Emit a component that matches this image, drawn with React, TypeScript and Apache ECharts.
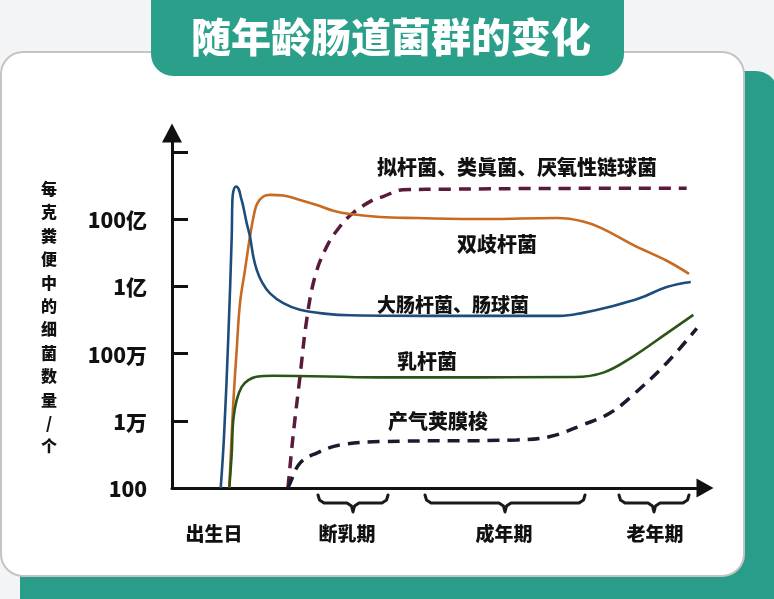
import React, { useEffect, useRef } from "react";
import * as echarts from "echarts";

// ---- Data (x: position on the age timeline 0..98.7, y: log10 of bacteria count per gram) ----
const yTickExponents = [2, 4, 6, 8, 10];
const yTickLabels = ["100", "1万", "100万", "1亿", "100亿"];
const yTickMarks = [4, 6, 8, 10, 12];

const periodLabels = ["出生日", "断乳期", "成年期", "老年期"];

const seriesNames = [
  "拟杆菌、类眞菌、厌氧性链球菌",
  "双歧杆菌",
  "大肠杆菌、肠球菌",
  "乳杆菌",
  "产气荚膜梭",
];

const bacteroidesData = [
  [21.48, 2.0], [22.41, 3.53], [23.7, 5.31], [24.94, 7.0], [26.48, 8.29],
  [28.65, 9.18], [31.11, 9.78], [33.52, 10.18], [37.22, 10.57], [39.07, 10.67],
  [42.78, 10.87], [51.48, 10.89], [70.0, 10.91], [95.31, 10.92],
];

const bifidoData = [
  [10.61, 2.0], [10.93, 3.13], [11.35, 4.53], [11.98, 6.11], [12.59, 7.5],
  [13.52, 8.49], [14.44, 9.48], [15.24, 10.18], [15.8, 10.47], [16.91, 10.67],
  [18.15, 10.72], [20.61, 10.7], [23.7, 10.57], [26.8, 10.42], [29.87, 10.25],
  [32.96, 10.15], [38.52, 10.06], [45.31, 10.03], [57.59, 10.0], [71.24, 10.03],
  [76.11, 9.93], [79.81, 9.71], [85.37, 9.23], [91.61, 8.76], [95.74, 8.37],
];

const coliData = [
  [9.02, 2.0], [9.63, 3.53], [10.43, 6.5], [11.06, 9.48], [11.17, 10.48],
  [11.35, 10.82], [11.85, 10.97], [12.35, 10.89], [12.72, 10.67], [13.2, 10.37],
  [13.83, 9.88], [14.44, 9.48], [15.06, 8.88], [15.69, 8.49], [16.61, 8.14],
  [18.15, 7.79], [20.61, 7.5], [23.7, 7.3], [28.65, 7.18], [32.96, 7.14],
  [51.48, 7.12], [71.85, 7.12], [76.11, 7.21], [81.11, 7.39], [86.67, 7.65],
  [91.61, 7.98], [96.06, 8.13],
];

const lactoData = [
  [10.61, 2.0], [11.06, 3.03], [11.35, 4.02], [11.98, 4.62], [12.91, 5.01],
  [14.13, 5.21], [15.69, 5.31], [18.76, 5.34], [38.52, 5.29], [74.5, 5.3],
  [80.0, 5.44], [85.37, 5.91], [91.61, 6.6], [96.54, 7.15],
];

const clostridiumData = [
  [21.48, 2.0], [21.72, 2.09], [23.7, 2.74], [26.8, 3.04], [31.11, 3.28],
  [38.52, 3.38], [63.83, 3.43], [70.0, 3.53], [76.11, 3.88], [81.11, 4.23],
  [85.37, 4.77], [91.61, 5.72], [97.17, 6.75],
];

const FONT = '"Noto Sans CJK SC", "Noto Sans", sans-serif';

function brace(left: number, right: number, top: number) {
  const c = (left + right) / 2;
  const mid = top + 8;
  const tip = top + 17;
  return {
    type: "polyline",
    z: 50,
    shape: {
      points: [
        [left, top], [left + 1.5, top + 5], [left + 6, mid], [c - 6, mid],
        [c - 1.5, mid + 3], [c, tip], [c + 1.5, mid + 3], [c + 6, mid],
        [right - 6, mid], [right - 1.5, top + 5], [right, top],
      ],
    },
    style: { stroke: "#1a1a1a", lineWidth: 3, fill: "none", lineJoin: "round", lineCap: "round" },
  };
}

function label(text: string, x: number, y: number, size: number, align = "left") {
  return {
    type: "text",
    z: 60,
    x,
    y,
    style: {
      text,
      fill: "#111",
      fontSize: size,
      fontWeight: 900,
      fontFamily: FONT,
      align,
      verticalAlign: "middle",
    },
  };
}

export default function App() {
  const ref = useRef<HTMLDivElement>(null);

  useEffect(() => {
    if (!ref.current) return;
    const chart = echarts.init(ref.current, undefined, { renderer: "svg" });

    const lineSeries = (name: string, data: number[][], color: string, dashed: boolean) => ({
      name,
      type: "line",
      data,
      showSymbol: false,
      symbol: "none",
      smooth: 0.4,
      z: 5,
      lineStyle: dashed
        ? { color, width: 3.5, type: [12, 8], cap: "butt" }
        : { color, width: 2.6 },
    });

    const yNameChars = "每克粪便中的细菌数量/个".split("");

    const option: any = {
      animation: false,
      backgroundColor: "transparent",
      grid: { left: 172, right: 69, top: 133, bottom: 111, containLabel: false },
      xAxis: {
        type: "value",
        min: 0,
        max: 98.7,
        axisLine: {
          show: true,
          lineStyle: { color: "#111", width: 3 },
          symbol: ["none", "triangle"],
          symbolSize: [19, 17],
        },
        axisTick: { show: false },
        axisLabel: { show: false },
        splitLine: { show: false },
      },
      yAxis: {
        type: "value",
        min: 2,
        max: 12.56,
        interval: 2,
        axisLine: {
          show: true,
          lineStyle: { color: "#111", width: 3 },
          symbol: ["none", "triangle"],
          symbolSize: [20, 19],
        },
        axisTick: {
          show: true,
          inside: true,
          length: 16,
          lineStyle: { color: "#111", width: 3 },
          customValues: yTickMarks,
        },
        axisLabel: {
          show: true,
          margin: 25,
          color: "#111",
          fontSize: 21,
          fontWeight: 900,
          fontFamily: FONT,
          customValues: yTickExponents,
          formatter: (v: number) => {
            const i = yTickExponents.indexOf(Math.round(v));
            return i >= 0 ? yTickLabels[i] : "";
          },
        },
        splitLine: { show: false },
      },
      series: [
        lineSeries(seriesNames[0], bacteroidesData, "#5a1a3c", true),
        lineSeries(seriesNames[1], bifidoData, "#c76a22", false),
        lineSeries(seriesNames[2], coliData, "#1c4d7b", false),
        lineSeries(seriesNames[3], lactoData, "#2c5416", false),
        lineSeries(seriesNames[4], clostridiumData, "#1b1b2e", true),
      ],
      graphic: [
        { type: "rect", z: -30, shape: { x: 0, y: 0, width: 774, height: 599 }, style: { fill: "#f3f4f6" } },
        { type: "rect", z: -20, shape: { x: 20, y: 71, width: 758, height: 620, r: 22 }, style: { fill: "#2a9d8a" } },
        { type: "rect", z: -10, shape: { x: 1, y: 52, width: 743, height: 524, r: 22 }, style: { fill: "#ffffff", stroke: "#c4c4c4", lineWidth: 2 } },
        { type: "rect", z: 40, shape: { x: 151, y: -30, width: 473, height: 106, r: 22 }, style: { fill: "#2aa08b" } },
        {
          type: "text",
          z: 60,
          x: 391,
          y: 35,
          style: {
            text: "随年龄肠道菌群的变化",
            fill: "#ffffff",
            fontSize: 40,
            fontWeight: 900,
            fontFamily: FONT,
            align: "center",
            verticalAlign: "middle",
          },
        },
        ...yNameChars.map((ch, i) => ({
          type: "text",
          z: 60,
          x: 49,
          y: 188 + i * 23.4,
          style: {
            text: ch,
            fill: "#111",
            fontSize: 16,
            fontWeight: 900,
            fontFamily: FONT,
            align: "center",
            verticalAlign: "middle",
          },
        })),
        label(seriesNames[0], 377, 166, 20),
        label(seriesNames[1], 457, 243, 20),
        label(seriesNames[2], 377, 303, 19),
        label(seriesNames[3], 397, 360, 20),
        label(seriesNames[4], 388, 420, 20),
        brace(318, 388, 495),
        brace(425, 585, 495),
        brace(619, 689, 495),
        label(periodLabels[0], 214, 532, 19, "center"),
        label(periodLabels[1], 347, 532, 19, "center"),
        label(periodLabels[2], 504, 532, 19, "center"),
        label(periodLabels[3], 655, 532, 19, "center"),
      ],
    };

    chart.setOption(option);
    return () => chart.dispose();
  }, []);

  return (
    <div
      ref={ref}
      style={{ position: "fixed", left: 0, top: 0, width: 774, height: 599 }}
    />
  );
}
